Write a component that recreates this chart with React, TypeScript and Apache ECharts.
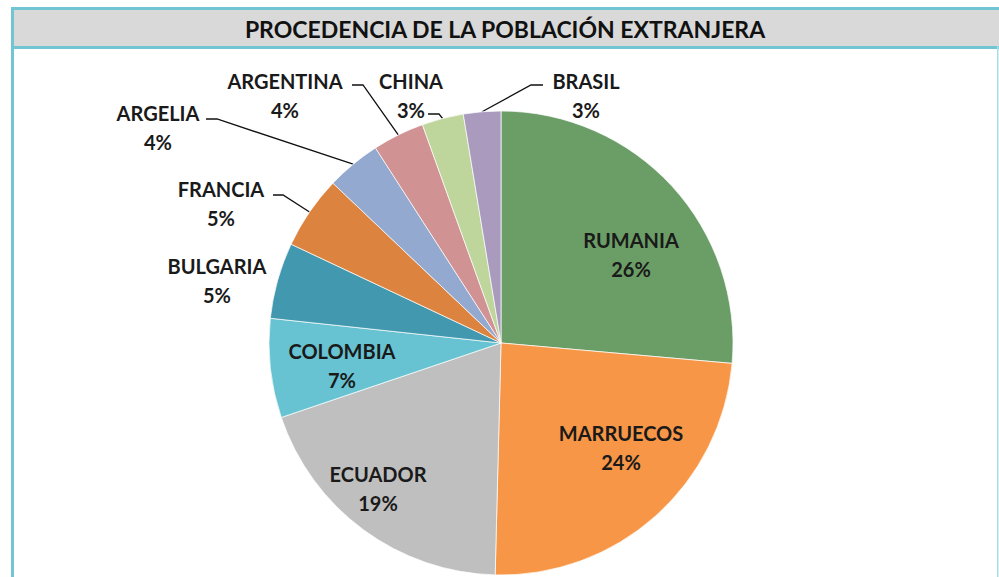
import React, { useEffect, useRef } from "react";
import * as echarts from "echarts";

const TITLE = "PROCEDENCIA DE LA POBLACIÓN EXTRANJERA";
const categories = ["RUMANIA", "MARRUECOS", "ECUADOR", "COLOMBIA", "BULGARIA", "FRANCIA", "ARGELIA", "ARGENTINA", "CHINA", "BRASIL"];
const shares = [26.4, 24.0, 19.4, 6.9, 5.3, 5.1, 3.8, 3.6, 2.9, 2.6];
const colors = ["#6b9e66", "#f79646", "#bfbfbf", "#67c3d1", "#4198af", "#dc843f", "#94a9d0", "#d09292", "#bed59c", "#a99abe"];

// label placement (layout, not data): [x, y, bendX, bendY, endX, endY]
const labelPos: Record<string, number[]> = {
  RUMANIA: [631, 254],
  MARRUECOS: [621, 447],
  ECUADOR: [378, 488],
  COLOMBIA: [342, 365],
  BULGARIA: [217, 280],
  FRANCIA: [221, 203, 283, 195, 273, 195],
  ARGELIA: [158, 127, 217, 119, 206, 119],
  ARGENTINA: [285, 95, 363, 85, 352, 85],
  CHINA: [411, 95, 439, 114, 428, 114],
  BRASIL: [586, 95, 531, 85, 543, 85],
};

export default function App() {
  const ref = useRef<HTMLDivElement>(null);
  useEffect(() => {
    document.body.style.margin = "0";
    const chart = echarts.init(ref.current!, null, { renderer: "svg" });
    const teal = "#72c6d3";
    chart.setOption({
      animation: false,
      backgroundColor: "#ffffff",
      graphic: [
        { type: "rect", shape: { x: 11, y: 7, width: 990, height: 3 }, style: { fill: teal }, z: 10 },
        { type: "rect", shape: { x: 11, y: 7, width: 3, height: 580 }, style: { fill: teal }, z: 10 },
        { type: "rect", shape: { x: 14, y: 10, width: 990, height: 36 }, style: { fill: "#d9d9d9" }, z: 5 },
        { type: "rect", shape: { x: 11, y: 46, width: 990, height: 3 }, style: { fill: teal }, z: 10 },
        { type: "rect", shape: { x: 997, y: 46, width: 1.5, height: 540 }, style: { fill: "#a9dde5" }, z: 10 },
        {
          type: "text",
          x: 505,
          y: 29,
          z: 11,
          style: {
            text: TITLE,
            fill: "#111111",
            font: "bold 23px Lato",
            align: "center",
            verticalAlign: "middle",
          },
        },
      ],
      series: [
        {
          type: "pie",
          center: [501, 343],
          radius: 232,
          startAngle: 90,
          clockwise: true,
          data: categories.map((c, i) => ({ name: c, value: shares[i], itemStyle: { color: colors[i] } })),
          itemStyle: { borderColor: "#ffffff", borderWidth: 0.7 },
          label: {
            show: true,
            position: "outside",
            formatter: (p: any) => p.name + "\n" + Math.round(p.value) + "%",
            color: "#1a1a1a",
            fontFamily: "Lato",
            fontWeight: "bold",
            fontSize: 20,
            lineHeight: 29,
            align: "center",
          },
          labelLine: { show: true, lineStyle: { color: "#111111", width: 1.3 } },
          labelLayout: (params: any) => {
            const name = categories[params.dataIndex];
            const pos = labelPos[name];
            const out: any = { x: pos[0], y: pos[1], align: "center", verticalAlign: "middle" };
            if (pos.length > 2 && params.labelLinePoints) {
              const p0 = params.labelLinePoints[0];
              out.labelLinePoints = [p0, [pos[2], pos[3]], [pos[4], pos[5]]];
            } else {
              out.labelLinePoints = [[pos[0], pos[1]], [pos[0], pos[1]], [pos[0], pos[1]]];
            }
            return out;
          },
          emphasis: { disabled: true },
        },
      ],
    });
    return () => chart.dispose();
  }, []);
  return <div ref={ref} style={{ position: "absolute", left: 0, top: 0, width: 999, height: 577 }} />;
}
